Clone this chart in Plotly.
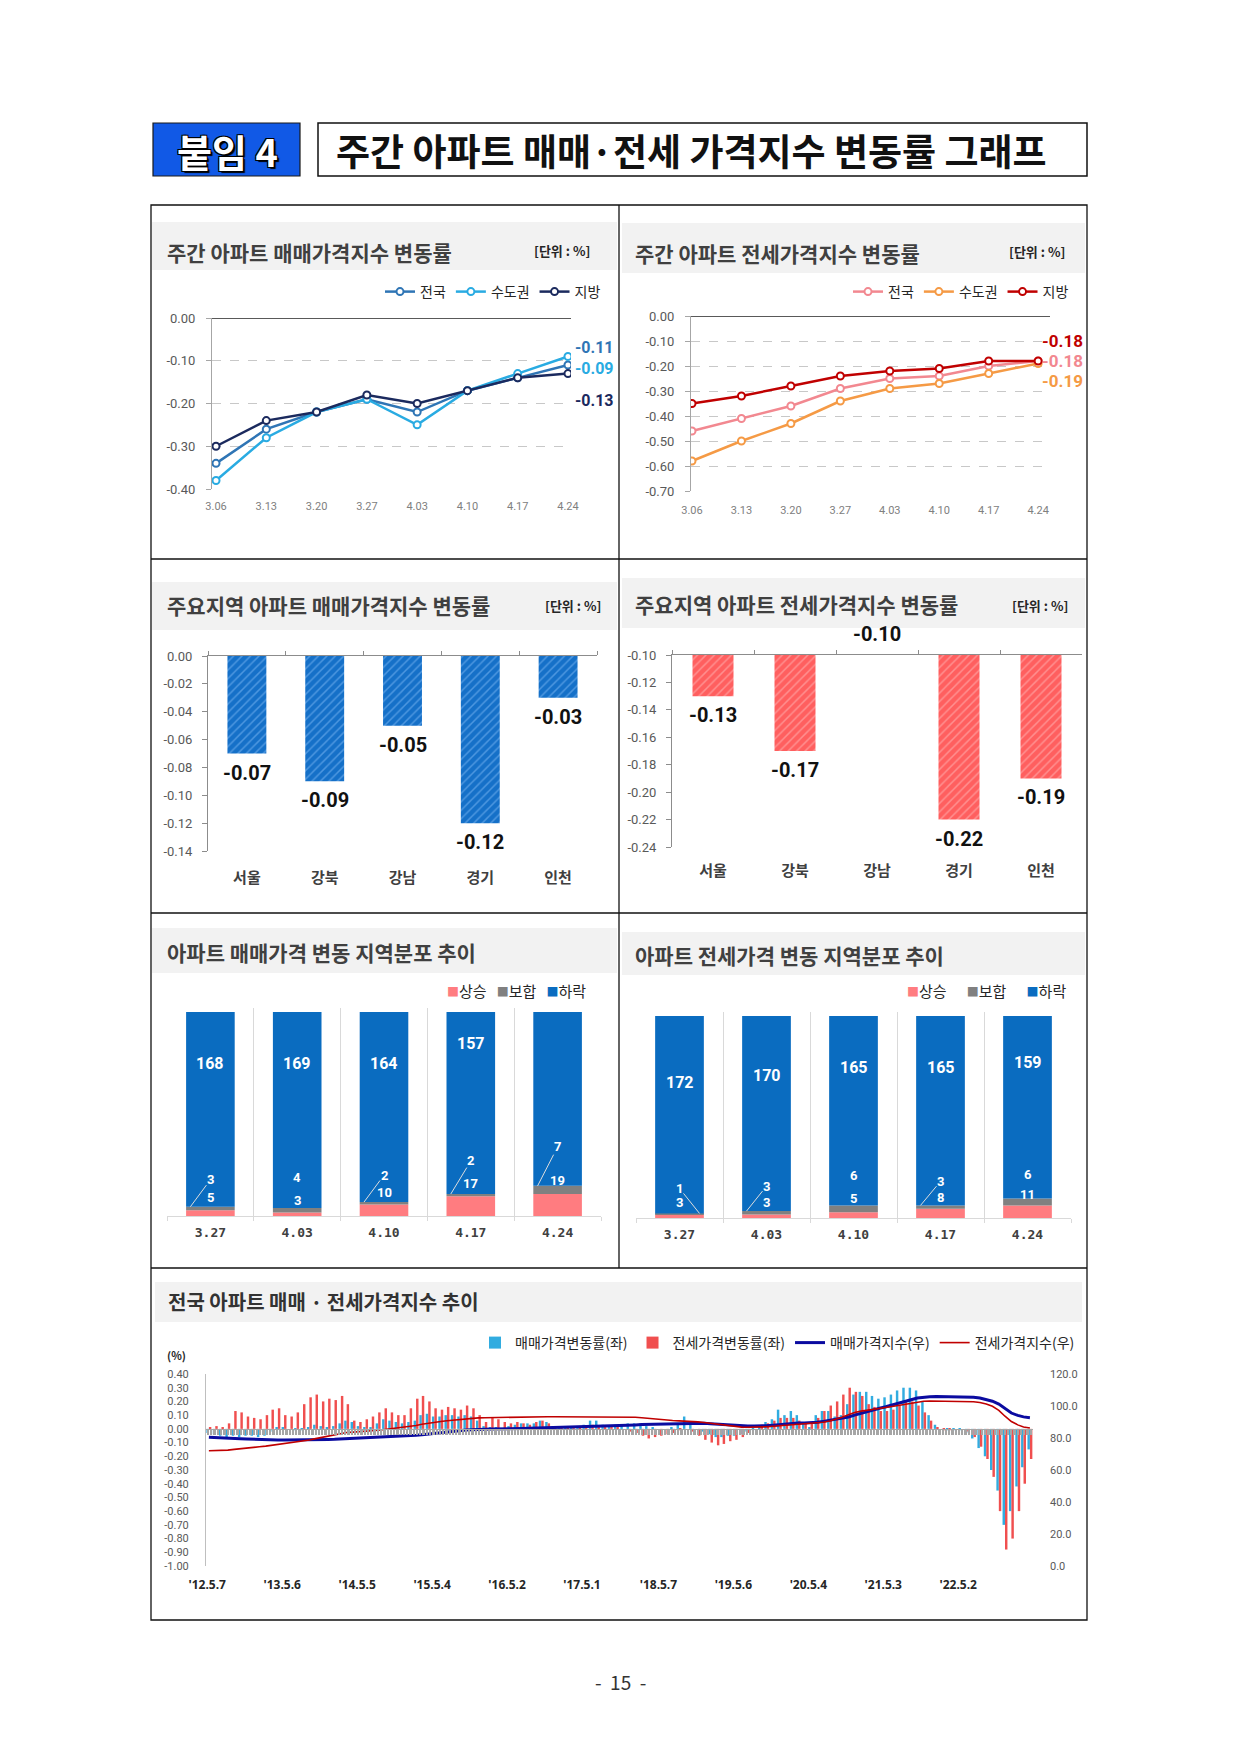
import plotly.graph_objects as go

W, H = 1240, 1753
OFF = 8  # page body margin of the viewer
KR = "Noto Sans CJK KR"
NAR = "Liberation Sans Narrow, Roboto, Noto Sans CJK KR, sans-serif"


def fx(p):
    return (p - OFF) / W


def fy(p):
    return 1 - (p - OFF) / H


# ---------------- data ----------------
weeks = ["3.06", "3.13", "3.20", "3.27", "4.03", "4.10", "4.17", "4.24"]
sale_nation = [-0.34, -0.26, -0.22, -0.19, -0.22, -0.17, -0.14, -0.11]
sale_capital = [-0.38, -0.28, -0.22, -0.19, -0.25, -0.17, -0.13, -0.09]
sale_local = [-0.30, -0.24, -0.22, -0.18, -0.20, -0.17, -0.14, -0.13]
sale_ticks = [0.0, -0.10, -0.20, -0.30, -0.40]

jeonse_nation = [-0.46, -0.41, -0.36, -0.29, -0.25, -0.24, -0.20, -0.18]
jeonse_capital = [-0.58, -0.50, -0.43, -0.34, -0.29, -0.27, -0.23, -0.19]
jeonse_local = [-0.35, -0.32, -0.28, -0.24, -0.22, -0.21, -0.18, -0.18]
jeonse_ticks = [0.0, -0.10, -0.20, -0.30, -0.40, -0.50, -0.60, -0.70]

regions = ["서울", "강북", "강남", "경기", "인천"]
region_sale = [-0.07, -0.09, -0.05, -0.12, -0.03]
region_jeonse = [-0.13, -0.17, -0.10, -0.22, -0.19]
region_sale_ticks = [0.0, -0.02, -0.04, -0.06, -0.08, -0.10, -0.12, -0.14]
region_jeonse_ticks = [-0.10, -0.12, -0.14, -0.16, -0.18, -0.20, -0.22, -0.24]

dist_weeks = ["3.27", "4.03", "4.10", "4.17", "4.24"]
sale_up = [5, 3, 10, 17, 19]
sale_flat = [3, 4, 2, 2, 7]
sale_down = [168, 169, 164, 157, 150]
jeonse_up = [3, 3, 5, 8, 11]
jeonse_flat = [1, 3, 6, 3, 6]
jeonse_down = [172, 170, 165, 165, 159]

# monthly readings, 2012-05 .. 2023-04
sale_rate = [
    -0.03, -0.04, -0.05, -0.06, -0.05, -0.06, -0.05, -0.05,
    -0.06, -0.05, -0.02, 0.01, 0.01, 0.00, -0.01, -0.01, 0.01, 0.03, 0.02, 0.01,
    0.02, 0.04, 0.06, 0.05, 0.02, 0.01, 0.01, 0.04, 0.07, 0.06, 0.05, 0.04,
    0.05, 0.06, 0.10, 0.11, 0.09, 0.09, 0.10, 0.10, 0.09, 0.10, 0.09, 0.06,
    0.02, 0.01, 0.01, 0.00, 0.02, 0.03, 0.04, 0.04, 0.04, 0.06, 0.05, 0.02,
    0.01, 0.01, 0.01, 0.02, 0.03, 0.06, 0.06, 0.03, 0.02, 0.03, 0.03, 0.04,
    0.04, 0.04, 0.02, 0.01, 0.00, 0.00, 0.01, 0.04, 0.09, 0.03, 0.00, -0.02,
    -0.04, -0.06, -0.06, -0.05, -0.05, -0.04, -0.02, -0.01, 0.01, 0.05, 0.07, 0.14,
    0.10, 0.13, 0.10, 0.04, 0.01, 0.10, 0.13, 0.13, 0.09, 0.10, 0.18, 0.25,
    0.27, 0.27, 0.24, 0.22, 0.23, 0.25, 0.28, 0.30, 0.30, 0.28, 0.20, 0.10,
    0.03, 0.00, -0.01, -0.01, -0.01, -0.03, -0.07, -0.14, -0.20, -0.30, -0.45, -0.70,
    -0.60, -0.42, -0.28, -0.15,
]
jeonse_rate = [
    0.01, 0.02, 0.01, 0.04, 0.13, 0.12, 0.09, 0.08,
    0.07, 0.10, 0.14, 0.15, 0.10, 0.09, 0.12, 0.18, 0.23, 0.25, 0.20, 0.22,
    0.21, 0.24, 0.18, 0.06, 0.05, 0.07, 0.09, 0.12, 0.15, 0.12, 0.10, 0.10,
    0.15, 0.22, 0.24, 0.20, 0.15, 0.14, 0.16, 0.15, 0.14, 0.17, 0.15, 0.10,
    0.05, 0.08, 0.07, 0.05, 0.04, 0.05, 0.04, 0.03, 0.05, 0.06, 0.04, 0.02,
    0.01, 0.01, 0.02, 0.01, 0.02, 0.03, 0.01, 0.01, 0.02, 0.01, 0.00, -0.02,
    -0.03, -0.05, -0.07, -0.06, -0.05, -0.04, -0.03, -0.01, 0.00, -0.02, -0.05, -0.08,
    -0.10, -0.12, -0.11, -0.09, -0.08, -0.06, -0.03, 0.00, 0.03, 0.04, 0.06, 0.08,
    0.08, 0.08, 0.06, 0.04, 0.04, 0.08, 0.13, 0.17, 0.20, 0.25, 0.30, 0.27,
    0.24, 0.18, 0.16, 0.13, 0.13, 0.14, 0.17, 0.20, 0.20, 0.17, 0.12, 0.06,
    0.01, -0.01, -0.01, 0.00, 0.00, -0.02, -0.06, -0.13, -0.22, -0.35, -0.60, -0.88,
    -0.80, -0.60, -0.40, -0.22,
]
sale_index = [
    80.5, 80.4, 80.2, 80.0, 79.8, 79.6, 79.4, 79.2,
    79.0, 78.8, 78.7, 78.7, 78.8, 78.8, 78.8, 78.7, 78.8, 78.9, 79.0, 79.1,
    79.2, 79.4, 79.6, 79.8, 79.9, 80.0, 80.0, 80.2, 80.5, 80.8, 81.0, 81.2,
    81.4, 81.7, 82.1, 82.6, 83.0, 83.4, 83.8, 84.2, 84.6, 85.0, 85.3, 85.5,
    85.5, 85.6, 85.6, 85.6, 85.7, 85.8, 86.0, 86.1, 86.2, 86.4, 86.6, 86.7,
    86.7, 86.8, 86.8, 86.9, 87.0, 87.2, 87.4, 87.5, 87.6, 87.7, 87.8, 88.0,
    88.2, 88.4, 88.5, 88.5, 88.5, 88.5, 88.6, 88.7, 89.1, 89.3, 89.3, 89.2,
    88.9, 88.6, 88.3, 88.0, 87.8, 87.6, 87.5, 87.5, 87.5, 87.7, 88.0, 88.4,
    88.7, 89.0, 89.3, 89.4, 89.5, 89.8, 90.4, 91.0, 91.6, 92.2, 93.1, 94.3,
    95.5, 96.6, 97.6, 98.6, 99.5, 100.5, 101.6, 102.8, 103.9, 105.0, 105.6, 105.8,
    105.9, 105.9, 105.9, 105.8, 105.8, 105.7, 105.5, 105.0, 104.2, 103.0, 101.2, 98.4,
    95.6, 94.1, 93.2, 92.7,
]
jeonse_index = [
    72.0, 72.1, 72.2, 72.4, 72.9, 73.4, 73.8, 74.2,
    74.5, 74.9, 75.4, 75.9, 76.3, 76.7, 77.2, 77.9, 78.7, 79.6, 80.4, 81.2,
    82.0, 82.8, 83.4, 83.7, 83.9, 84.1, 84.4, 84.8, 85.3, 85.8, 86.2, 86.6,
    87.1, 87.8, 88.6, 89.3, 89.8, 90.3, 90.8, 91.2, 91.6, 92.0, 92.4, 92.6,
    92.7, 92.8, 92.9, 93.0, 93.0, 93.1, 93.1, 93.2, 93.2, 93.3, 93.3, 93.3,
    93.3, 93.3, 93.3, 93.3, 93.3, 93.4, 93.4, 93.4, 93.4, 93.4, 93.3, 93.2,
    93.0, 92.7, 92.3, 91.9, 91.5, 91.2, 90.9, 90.7, 90.6, 90.4, 90.1, 89.7,
    89.2, 88.6, 88.0, 87.5, 87.1, 86.8, 86.7, 86.7, 86.8, 87.0, 87.3, 87.6,
    87.9, 88.2, 88.5, 88.7, 88.9, 89.2, 89.8, 90.6, 91.6, 92.9, 94.5, 95.9,
    96.8, 97.5, 98.1, 98.6, 99.1, 99.7, 100.4, 101.2, 102.0, 102.6, 103.0, 103.1,
    103.1, 103.1, 103.0, 103.0, 103.0, 102.9, 102.7, 102.2, 101.3, 99.8, 97.3, 93.6,
    90.3, 88.2, 86.9, 86.2,
]
trend_tick_dates = ["2012-05-07", "2013-05-06", "2014-05-05", "2015-05-04", "2016-05-02", "2017-05-01",
                    "2018-05-07", "2019-05-06", "2020-05-04", "2021-05-03", "2022-05-02"]
trend_tick_text = ["'12.5.7", "'13.5.6", "'14.5.5", "'15.5.4", "'16.5.2", "'17.5.1",
                   "'18.5.7", "'19.5.6", "'20.5.4", "'21.5.3", "'22.5.2"]
rate_ticks = [0.4, 0.3, 0.2, 0.1, 0.0, -0.1, -0.2, -0.3, -0.4, -0.5, -0.6, -0.7, -0.8, -0.9, -1.0]
index_ticks = [0, 20, 40, 60, 80, 100, 120]

months = []
for yr in range(2012, 2024):
    for mo in range(1, 13):
        if (yr, mo) < (2012, 5) or (yr, mo) > (2023, 4):
            continue
        months.append(f"{yr}-{mo:02d}-15")

# ---------------- helpers ----------------
fig = go.Figure()
ann = []
shp = []


def txt(x, y, s, size=14, color="#262626", family=KR, weight="normal", xanchor="left", yanchor="middle", shadow=None):
    f = dict(size=size, color=color, family=family, weight=weight)
    if shadow:
        f["shadow"] = shadow
    ann.append(dict(xref="paper", yref="paper", x=fx(x), y=fy(y), text=s, showarrow=False,
                    xanchor=xanchor, yanchor=yanchor, font=f))


def box(x0, y0, x1, y1, fill="rgba(0,0,0,0)", line=None, lw=1.0, layer="below"):
    shp.append(dict(type="rect", xref="paper", yref="paper", x0=fx(x0), x1=fx(x1), y0=fy(y1), y1=fy(y0),
                    fillcolor=fill, line=dict(color=line if line else "rgba(0,0,0,0)", width=lw if line else 0),
                    layer=layer))


def seg(x0, y0, x1, y1, color="#111", lw=1.3):
    shp.append(dict(type="line", xref="paper", yref="paper", x0=fx(x0), x1=fx(x1), y0=fy(y0), y1=fy(y1),
                    line=dict(color=color, width=lw), layer="below"))


# ---------------- page decoration ----------------
box(153, 123, 300, 176, fill="#1159e6", line="#1a1a1a", lw=1.2)
txt(227, 150, "붙임 4", size=38, color="white", weight="bold", xanchor="center",
    shadow="-1px -1px 0 #000, 1px -1px 0 #000, -1px 1px 0 #000, 1px 1px 0 #000, 2px 2px 1px #000")
box(318, 123, 1087, 176, fill="white", line="#111", lw=1.5)
txt(691, 150, "주간 아파트 매매·전세 가격지수 변동률 그래프", size=37, color="#111", weight="bold", xanchor="center")

box(151, 205, 1087, 1620, line="#111", lw=1.3)
seg(619, 205, 619, 1268)
seg(151, 559, 1087, 559)
seg(151, 913, 1087, 913)
seg(151, 1268, 1087, 1268)

bands = [(152, 222, 617, 270), (622, 223, 1085, 273), (152, 582, 617, 630), (622, 578, 1085, 628),
         (152, 928, 617, 973), (622, 932, 1085, 975), (155, 1282, 1082, 1322)]
for b in bands:
    box(*b, fill="#f2f2f2")

TCOL = "#404040"
txt(165, 252, "주간 아파트 매매가격지수 변동률", size=21, color=TCOL, weight="bold")
txt(633, 253, "주간 아파트 전세가격지수 변동률", size=21, color=TCOL, weight="bold")
txt(165, 605, "주요지역 아파트 매매가격지수 변동률", size=21, color=TCOL, weight="bold")
txt(633, 604, "주요지역 아파트 전세가격지수 변동률", size=21, color=TCOL, weight="bold")
txt(165, 952, "아파트 매매가격 변동 지역분포 추이", size=21, color=TCOL, weight="bold")
txt(633, 955, "아파트 전세가격 변동 지역분포 추이", size=21, color=TCOL, weight="bold")
txt(166, 1301, "전국 아파트 매매 · 전세가격지수 추이", size=20, color="#333333", weight="bold")
for (xr, yy) in [(592, 250), (1067, 251), (603, 606), (1070, 606)]:
    txt(xr, yy, "[단위 : %]", size=13, color="#262626", weight="bold", xanchor="right")
txt(620, 1681, "-&nbsp;&nbsp;15&nbsp;&nbsp;-", size=19, color="#333333", xanchor="center")

# ---------------- P1: weekly sale lines ----------------
p1 = [("전국", sale_nation, "#2f75b5"), ("수도권", sale_capital, "#29abe2"), ("지방", sale_local, "#1b2a5e")]
for name, vals, col in p1:
    fig.add_trace(go.Scatter(x=list(range(len(weeks))), y=vals, name=name, mode="lines+markers",
                             line=dict(color=col, width=2.5),
                             marker=dict(symbol="circle", size=7, color="white", line=dict(color=col, width=2)),
                             xaxis="x", yaxis="y", legend="legend", hoverinfo="skip"))
p1_label_y = {"전국": 348, "수도권": 369, "지방": 400}
for name, vals, col in p1:
    txt(573, p1_label_y[name], f"{vals[-1]:.2f}", size=16, color=col, family=NAR, weight="bold")

# ---------------- P2: weekly jeonse lines ----------------
p2 = [("전국", jeonse_nation, "#f28890"), ("수도권", jeonse_capital, "#f59a45"), ("지방", jeonse_local, "#c00000")]
for name, vals, col in p2:
    fig.add_trace(go.Scatter(x=list(range(len(weeks))), y=vals, name=name, mode="lines+markers",
                             line=dict(color=col, width=2.5),
                             marker=dict(symbol="circle", size=7, color="white", line=dict(color=col, width=2)),
                             xaxis="x2", yaxis="y2", legend="legend2", hoverinfo="skip"))
p2_label_y = {"지방": 341, "전국": 361, "수도권": 381}
for name, vals, col in p2:
    txt(1040, p2_label_y[name], f"{vals[-1]:.2f}", size=17, color=col, family=NAR, weight="bold")

# ---------------- P3 / P4: region bars ----------------
fig.add_trace(go.Bar(x=regions, y=region_sale, width=0.5, showlegend=False, hoverinfo="skip",
                     marker=dict(color="#1570c8", line=dict(width=0),
                                 pattern=dict(shape="/", fillmode="replace", bgcolor="#1570c8",
                                              fgcolor="#4d97e0", size=6, solidity=0.25)),
                     xaxis="x3", yaxis="y3"))
fig.add_trace(go.Bar(x=regions, y=region_jeonse, width=0.5, showlegend=False, hoverinfo="skip",
                     marker=dict(color="#ff5f5f", line=dict(width=0),
                                 pattern=dict(shape="/", fillmode="replace", bgcolor="#ff5f5f",
                                              fgcolor="#ff9090", size=6, solidity=0.25)),
                     xaxis="x4", yaxis="y4"))
for dummy_ax, y_ax in [("x9", "y3"), ("x10", "y4")]:
    fig.add_trace(go.Scatter(x=regions, y=[None] * len(regions), xaxis=dummy_ax, yaxis=y_ax,
                             showlegend=False, hoverinfo="skip"))
for i, v in enumerate(region_sale):
    ann.append(dict(x=i, y=v, xref="x3", yref="y3", text=f"{v:.2f}", showarrow=False, yshift=-19,
                    font=dict(family=NAR, size=20, color="#111", weight="bold")))
for i, v in enumerate(region_jeonse):
    shift = 21 if v >= region_jeonse_ticks[0] else -19
    ann.append(dict(x=i, y=v, xref="x4", yref="y4", text=f"{v:.2f}", showarrow=False, yshift=shift,
                    font=dict(family=NAR, size=20, color="#111", weight="bold")))

# ---------------- P5 / P6: distribution stacked bars ----------------
C_UP, C_FLAT, C_DOWN = "#ff7c80", "#808080", "#0a6cc0"


def stacked(xa, ya, up, flat, down):
    base_flat = up
    base_down = [u + f for u, f in zip(up, flat)]
    for name, vals, base, col in [("상승", up, [0] * len(up), C_UP), ("보합", flat, base_flat, C_FLAT),
                                  ("하락", down, base_down, C_DOWN)]:
        fig.add_trace(go.Bar(x=dist_weeks, y=vals, base=base, name=name, marker=dict(color=col, line=dict(width=0)),
                             width=0.56, offset=-0.28, offsetgroup=xa, xaxis=xa, yaxis=ya, showlegend=False,
                             hoverinfo="skip"))


stacked("x5", "y5", sale_up, sale_flat, sale_down)
stacked("x6", "y6", jeonse_up, jeonse_flat, jeonse_down)


def legend_html(sp):
    gap = "&nbsp;" * sp
    return ("<span style='color:%s;font-size:12px'>■</span>상승" + gap +
            "<span style='color:%s;font-size:12px'>■</span>보합" + gap +
            "<span style='color:%s;font-size:12px'>■</span>하락") % (C_UP, C_FLAT, C_DOWN)


txt(588, 990, legend_html(3), size=15, color="#262626", xanchor="right")
txt(1068, 990, legend_html(6), size=15, color="#262626", xanchor="right")

LBL = dict(family=NAR, size=16, color="white", weight="bold")
SLBL = dict(family=NAR, size=13, color="white", weight="bold")

p5_down_y = [1063, 1063, 1063, 1043, None]
p5_flat_y = [1180, 1186, 1175, 1161, 1147]
p5_flat_leader = [-27, 0, -27, -33, -39]
p5_up_y = [1206, 1209, 1201, 1192, 1189]
p6_down_y = [1082, 1075, 1067, 1067, 1062]
p6_flat_y = [1188, 1186, 1184, 1182, 1174]
p6_flat_leader = [-25, -25, 0, -24, 0]
p6_leader_side = [1, -1, -1, -1, -1]
p6_up_y = [1211, 1211, 1207, 1206, 1203]


def stacked_labels(xa, ya, up, flat, down, dy, fy_, lead, uy, side):
    for i in range(len(dist_weeks)):
        if dy[i] is not None:
            ann.append(dict(x=i, xref=xa, y=fy(dy[i]), yref="paper", text=str(down[i]), showarrow=False, font=LBL))
        if lead[i]:
            ann.append(dict(x=i, xref=xa, y=up[i] + flat[i], yref=ya, text=str(flat[i]), showarrow=True,
                            arrowhead=0, arrowwidth=1, arrowcolor="#dddddd", xshift=20 * side[i],
                            ax=-20 * side[i], ay=lead[i], font=SLBL, borderpad=0))
        else:
            ann.append(dict(x=i, xref=xa, y=fy(fy_[i]), yref="paper", text=str(flat[i]), showarrow=False,
                            font=SLBL, borderpad=0))
        ann.append(dict(x=i, xref=xa, y=fy(uy[i]), yref="paper", text=str(up[i]), showarrow=False, font=SLBL,
                        borderpad=0))


stacked_labels("x5", "y5", sale_up, sale_flat, sale_down, p5_down_y, p5_flat_y, p5_flat_leader, p5_up_y,
               [-1] * 5)
stacked_labels("x6", "y6", jeonse_up, jeonse_flat, jeonse_down, p6_down_y, p6_flat_y, p6_flat_leader, p6_up_y,
               p6_leader_side)

# ---------------- P7: long-term trend ----------------
fig.add_trace(go.Bar(x=months, y=sale_rate, name="매매가격변동률(좌)", marker=dict(color="#31ace0", line=dict(width=0)),
                     xaxis="x7", yaxis="y7", legend="legend5", hoverinfo="skip"))
fig.add_trace(go.Bar(x=months, y=jeonse_rate, name="전세가격변동률(좌)", marker=dict(color="#f04f4f", line=dict(width=0)),
                     xaxis="x7", yaxis="y7", legend="legend5", hoverinfo="skip"))
fig.add_trace(go.Scatter(x=months, y=sale_index, name="매매가격지수(우)", mode="lines",
                         line=dict(color="#0b0ba0", width=3), xaxis="x7", yaxis="y8", legend="legend5",
                         hoverinfo="skip"))
fig.add_trace(go.Scatter(x=months, y=jeonse_index, name="전세가격지수(우)", mode="lines",
                         line=dict(color="#c00000", width=1.6), xaxis="x7", yaxis="y8", legend="legend5",
                         hoverinfo="skip"))
fig.add_trace(go.Scatter(x=[months[0]], y=[None], xaxis="x11", yaxis="y7", showlegend=False, hoverinfo="skip"))
txt(176, 1355, "(%)", size=11, color="#262626", weight="bold", xanchor="center")

y7_dom = [fy(1566), fy(1374)]
zero_pos = y7_dom[0] + (0 - rate_ticks[-1]) / (rate_ticks[0] - rate_ticks[-1]) * (y7_dom[1] - y7_dom[0])
P7_RANGE = ["2012-05-01", "2023-04-30"]

# ---------------- axes ----------------
GRAY_T = dict(family=NAR, size=13, color="#595959")
line_y_common = dict(showline=True, linecolor="#a6a6a6", ticks="outside", ticklen=5, tickcolor="#a6a6a6",
                     showgrid=True, gridcolor="#c8c8c8", griddash="dash", gridwidth=1,
                     zeroline=True, zerolinecolor="#595959", zerolinewidth=1.3, tickfont=GRAY_T,
                     ticklabelstandoff=8)
bar_y_common = dict(showline=True, linecolor="#8c8c8c", ticks="outside", ticklen=5, tickcolor="#8c8c8c",
                    showgrid=False, zeroline=False, tickfont=GRAY_T, ticklabelstandoff=7)
cat_dist = dict(type="category", range=[-0.5, 4.5], tickson="boundaries",
                showgrid=True, gridcolor="#d9d9d9", showline=True, linecolor="#d9d9d9", ticks="outside",
                ticklen=4, tickcolor="#d9d9d9", zeroline=False,
                tickfont=dict(family="DejaVu Sans Mono", size=13, color="#404040", weight="bold"),
                ticklabelstandoff=4)
leg_common = dict(orientation="h", bgcolor="rgba(0,0,0,0)", traceorder="normal", itemwidth=30,
                  yanchor="middle")

layout = dict(
    width=W, height=H, autosize=False, margin=dict(l=0, r=0, t=0, b=0, pad=0, autoexpand=False),
    paper_bgcolor="white", plot_bgcolor="rgba(0,0,0,0)",
    font=dict(family=KR, color="#262626"),
    barmode="group", bargap=0.15, bargroupgap=0,
    showlegend=True,
    xaxis=dict(domain=[fx(212), fx(571)], anchor="y", range=[-0.08, 7.06], tickvals=list(range(len(weeks))),
               ticktext=weeks, showgrid=False, zeroline=False, showline=False, ticks="",
               tickfont=dict(family=NAR, size=11, color="#808080"), ticklabelstandoff=9),
    yaxis=dict(domain=[fy(489), fy(318)], anchor="x", range=[sale_ticks[-1], sale_ticks[0]],
               tickvals=sale_ticks, ticktext=[f"{v:.2f}" for v in sale_ticks], **line_y_common),
    xaxis2=dict(domain=[fx(691), fx(1050)], anchor="y2", range=[-0.02, 7.24], tickvals=list(range(len(weeks))),
                ticktext=weeks, showgrid=False, zeroline=False, showline=False, ticks="",
                tickfont=dict(family=NAR, size=11, color="#808080"), ticklabelstandoff=11),
    yaxis2=dict(domain=[fy(491), fy(316)], anchor="x2", range=[jeonse_ticks[-1], jeonse_ticks[0]],
                tickvals=jeonse_ticks, ticktext=[f"{v:.2f}" for v in jeonse_ticks], **line_y_common),
    xaxis3=dict(domain=[fx(208), fx(597)], anchor="y3", type="category", range=[-0.5, 4.5], showgrid=False,
                zeroline=False, showline=False, ticks="",
                tickfont=dict(family=KR, size=15, color="#404040", weight="bold"), ticklabelstandoff=16),
    yaxis3=dict(domain=[fy(851), fy(656)], anchor="x3", range=[region_sale_ticks[-1], region_sale_ticks[0]],
                tickvals=region_sale_ticks, ticktext=[f"{v:.2f}" for v in region_sale_ticks], **bar_y_common),
    xaxis9=dict(overlaying="x3", anchor="y3", side="top", type="category", range=[-0.5, 4.5],
                showticklabels=False, showline=True, linecolor="#8c8c8c", ticks="outside", ticklen=4,
                tickcolor="#8c8c8c", tickson="boundaries", showgrid=False, zeroline=False),
    xaxis4=dict(domain=[fx(672), fx(1082)], anchor="y4", type="category", range=[-0.5, 4.5], showgrid=False,
                zeroline=False, showline=False, ticks="",
                tickfont=dict(family=KR, size=15, color="#404040", weight="bold"), ticklabelstandoff=13),
    yaxis4=dict(domain=[fy(847), fy(655)], anchor="x4", range=[region_jeonse_ticks[-1], region_jeonse_ticks[0]],
                tickvals=region_jeonse_ticks, ticktext=[f"{v:.2f}" for v in region_jeonse_ticks], **bar_y_common),
    xaxis10=dict(overlaying="x4", anchor="y4", side="top", type="category", range=[-0.5, 4.5],
                 showticklabels=False, showline=True, linecolor="#8c8c8c", ticks="outside", ticklen=4,
                 tickcolor="#8c8c8c", tickson="boundaries", showgrid=False, zeroline=False),
    xaxis5=dict(domain=[fx(167), fx(601)], anchor="y5", **cat_dist),
    yaxis5=dict(domain=[fy(1216), fy(1008)], anchor="x5", range=[0, 179.5], visible=False),
    xaxis6=dict(domain=[fx(636), fx(1071)], anchor="y6", **cat_dist),
    yaxis6=dict(domain=[fy(1218), fy(1012)], anchor="x6", range=[0, 179.5], visible=False),
    xaxis7=dict(domain=[fx(206), fx(1033)], anchor="y7", type="date", range=P7_RANGE,
                tickvals=trend_tick_dates, ticktext=trend_tick_text, showgrid=False, zeroline=False,
                showline=False, ticks="", tickfont=dict(family="Noto Sans", size=12, color="#262626", weight="bold"),
                ticklabelstandoff=10),
    yaxis7=dict(domain=y7_dom, anchor="x7", range=[rate_ticks[-1], rate_ticks[0]], tickvals=rate_ticks,
                ticktext=[f"{v:.2f}" for v in rate_ticks], showline=True, linecolor="#bfbfbf", ticks="",
                showgrid=False, zeroline=False, tickfont=dict(family=NAR, size=11, color="#595959"),
                ticklabelstandoff=14),
    yaxis8=dict(overlaying="y7", anchor="x7", side="right", range=[index_ticks[0], index_ticks[-1]],
                tickvals=index_ticks, ticktext=[f"{v:.1f}" for v in index_ticks], showline=False, ticks="",
                showgrid=False, zeroline=False, tickfont=dict(family=NAR, size=11, color="#595959"),
                ticklabelstandoff=16),
    xaxis11=dict(overlaying="x7", anchor="free", position=zero_pos, side="bottom", type="date", range=P7_RANGE,
                 showticklabels=False, showline=True, linecolor="#a6a6a6", ticks="outside", ticklen=5,
                 tickcolor="#a6a6a6", tickwidth=1, tick0="2012-05-07", dtick=7 * 24 * 3600 * 1000,
                 showgrid=False, zeroline=False),
    legend=dict(x=fx(606), y=fy(292), xanchor="right", font=dict(family=KR, size=14, color="#262626"),
                **leg_common),
    legend2=dict(x=fx(1074), y=fy(292), xanchor="right", font=dict(family=KR, size=14, color="#262626"),
                 **leg_common),
    legend5=dict(x=fx(1080), y=fy(1343), xanchor="right", font=dict(family=KR, size=14, color="#262626"),
                 **leg_common),
    annotations=ann,
    shapes=shp,
)

fig.update_layout(**layout)
fig.write_html("out.html")
